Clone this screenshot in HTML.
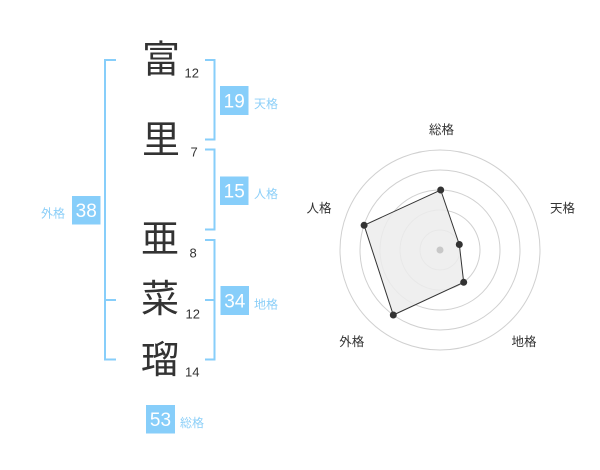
<!DOCTYPE html>
<html><head><meta charset="utf-8"><style>
html,body{margin:0;padding:0;background:#fff;}
svg{display:block;}
.k{font-family:"Liberation Sans","Noto Sans CJK JP",sans-serif;font-size:38px;fill:#333;}
.n{font-family:"Liberation Sans",sans-serif;font-size:13px;fill:#333;}
.b{font-family:"Liberation Sans",sans-serif;font-size:19px;fill:#fff;}
.l{font-family:"Liberation Sans","Noto Sans CJK JP",sans-serif;font-size:12px;fill:#8ccff8;}
.r{font-family:"Liberation Sans","Noto Sans CJK JP",sans-serif;font-size:12.5px;fill:#333;}
</style></head><body>
<svg width="600" height="470" viewBox="0 0 600 470" xmlns="http://www.w3.org/2000/svg">
<!-- kanji -->
<text class="k" x="161" y="60.5" text-anchor="middle" dominant-baseline="central">富</text>
<text class="k" x="161" y="141" text-anchor="middle" dominant-baseline="central">里</text>
<text class="k" x="160" y="240" text-anchor="middle" dominant-baseline="central">亜</text>
<text class="k" x="160" y="300" text-anchor="middle" dominant-baseline="central">菜</text>
<text class="k" x="160" y="361" text-anchor="middle" dominant-baseline="central">瑠</text>
<!-- stroke counts -->
<text class="n" x="184.5" y="77.7">12</text>
<text class="n" x="190.5" y="156.7">7</text>
<text class="n" x="189.5" y="257.7">8</text>
<text class="n" x="185.5" y="318.7">12</text>
<text class="n" x="185" y="376.7">14</text>
<!-- brackets -->
<g fill="none" stroke="#87cefa" stroke-width="2">
<polyline points="116,60 105,60 105,359.5 116,359.5"/>
<line x1="105" y1="300" x2="116" y2="300"/>
<polyline points="205,60 214.5,60 214.5,139.5 205,139.5"/>
<polyline points="205,149.5 214.5,149.5 214.5,229.5 205,229.5"/>
<polyline points="205,240 214.5,240 214.5,359.5 205,359.5"/>
<line x1="205" y1="300" x2="214.5" y2="300"/>
</g>
<!-- boxes -->
<g fill="#87cefa">
<rect x="220" y="86" width="28.5" height="29"/>
<rect x="220" y="176.5" width="28.5" height="28.5"/>
<rect x="220.5" y="286" width="28.5" height="29"/>
<rect x="72" y="196" width="28.5" height="28.5"/>
<rect x="146" y="405" width="29" height="28.5"/>
</g>
<text class="b" x="234.2" y="107.5" text-anchor="middle">19</text>
<text class="b" x="234.2" y="197.5" text-anchor="middle">15</text>
<text class="b" x="234.8" y="307.5" text-anchor="middle">34</text>
<text class="b" x="86.2" y="217" text-anchor="middle">38</text>
<text class="b" x="160.5" y="426" text-anchor="middle">53</text>
<text class="l" x="254" y="104" dominant-baseline="central">天格</text>
<text class="l" x="254" y="194" dominant-baseline="central">人格</text>
<text class="l" x="254" y="304.5" dominant-baseline="central">地格</text>
<text class="l" x="41" y="213.5" dominant-baseline="central">外格</text>
<text class="l" x="180" y="423" dominant-baseline="central">総格</text>
<!-- radar -->
<g fill="none" stroke="#d0d0d0" stroke-width="1">
<circle cx="440" cy="250" r="20"/>
<circle cx="440" cy="250" r="40"/>
<circle cx="440" cy="250" r="60"/>
<circle cx="440" cy="250" r="80"/>
<circle cx="440" cy="250" r="100"/>
</g>
<polygon points="440.7,190 459.3,244.5 463.7,282.3 393.3,315 364.1,225.3" fill="#ececec" fill-opacity="0.85" stroke="#333" stroke-width="1"/>
<circle cx="440" cy="250" r="3.5" fill="#c8c8c8"/>
<g fill="#333">
<circle cx="440.7" cy="190" r="3.5"/>
<circle cx="459.3" cy="244.5" r="3.5"/>
<circle cx="463.7" cy="282.3" r="3.5"/>
<circle cx="393.3" cy="315" r="3.5"/>
<circle cx="364.1" cy="225.3" r="3.5"/>
</g>
<text class="r" x="441.5" y="130" text-anchor="middle" dominant-baseline="central">総格</text>
<text class="r" x="562.5" y="208.5" text-anchor="middle" dominant-baseline="central">天格</text>
<text class="r" x="319" y="208.5" text-anchor="middle" dominant-baseline="central">人格</text>
<text class="r" x="351.7" y="342" text-anchor="middle" dominant-baseline="central">外格</text>
<text class="r" x="524" y="342" text-anchor="middle" dominant-baseline="central">地格</text>
</svg>
</body></html>
